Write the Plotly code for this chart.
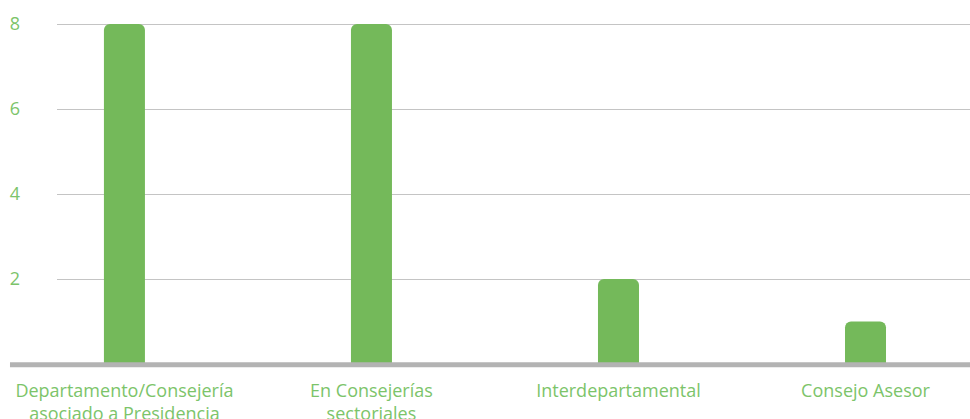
import plotly.graph_objects as go

categories = ["Departamento/Consejería<br>asociado a Presidencia", "En Consejerías<br>sectoriales",
              "Interdepartamental", "Consejo Asesor"]
values = [8, 8, 2, 1]
y_ticks = [2, 4, 6, 8]

fig = go.Figure()
fig.add_trace(go.Bar(x=list(range(len(categories))), y=values, width=0.166,
                     marker=dict(color="#74b95a", line=dict(width=0)), hoverinfo="skip"))

fig.update_layout(
    width=970, height=419,
    margin=dict(l=57, r=0, t=0, b=55),
    plot_bgcolor="white", paper_bgcolor="white",
    showlegend=False,
    barcornerradius=6,
    font=dict(family="Open Sans, sans-serif", color="#7cc46a", size=18),
    xaxis=dict(range=[-0.273, 3.423], tickmode="array", tickvals=list(range(len(categories))),
               ticktext=categories, showgrid=False, zeroline=False, showline=False,
               ticks="", automargin=False, ticklabelstandoff=14,
               tickfont=dict(size=18, color="#7cc46a")),
    yaxis=dict(range=[0, 8.565], tickmode="array", tickvals=y_ticks,
               ticktext=[str(v) for v in y_ticks], showgrid=True, gridcolor="#c4c4c4",
               gridwidth=1, zeroline=False, showline=False, ticks="", automargin=False,
               ticklabelstandoff=36, tickfont=dict(size=18, color="#7cc46a")),
)
fig.add_shape(type="line", xref="paper", yref="paper", x0=-0.0515, x1=1, y0=-0.002, y1=-0.002,
              line=dict(color="#b3b3b3", width=5), layer="above")
fig.write_html("out.html", config={"displayModeBar": False},
               post_script="document.body.style.margin='0';document.body.style.overflow='hidden';")
